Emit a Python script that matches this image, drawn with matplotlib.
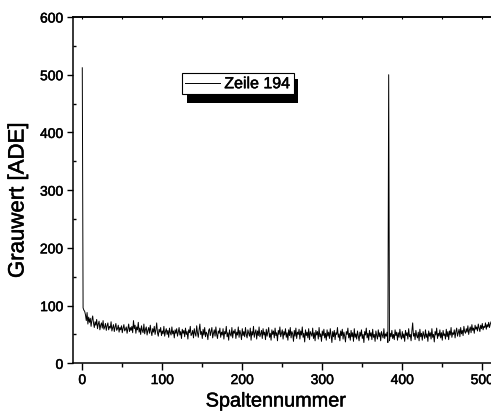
import matplotlib
matplotlib.use("Agg")
import matplotlib.pyplot as plt
import matplotlib.patheffects as pe
from matplotlib.patches import Rectangle
from matplotlib.ticker import MultipleLocator
import numpy as np

plt.rcParams['font.family'] = ['Liberation Sans', 'DejaVu Sans']

# Grey values of image row 194, one per column
grauwert = [
    512, 96, 92, 90, 84, 74, 88, 68, 80, 71, 78, 64, 75, 82, 70, 62,
    72, 66, 76, 60, 68, 73, 58, 66, 70, 61, 74, 59, 63, 69, 57, 65,
    70, 58, 64, 61, 72, 56, 62, 67, 55, 63, 69, 57, 60, 66, 54, 62,
    58, 65, 53, 61, 67, 56, 59, 63, 52, 60, 68, 55, 62, 57, 64, 53,
    74, 60, 66, 52, 63, 58, 71, 54, 61, 50, 65, 57, 53, 68, 51, 59,
    63, 49, 57, 62, 52, 66, 55, 48, 60, 54, 64, 50, 58, 70, 53, 47,
    59, 54, 62, 48, 56, 51, 64, 47, 55, 60, 50, 57, 45, 61, 53, 49,
    63, 51, 56, 44, 58, 52, 60, 47, 54, 62, 49, 55, 43, 59, 52, 57,
    46, 61, 50, 55, 42, 58, 53, 64, 48, 51, 57, 44, 60, 52, 47, 65,
    53, 45, 58, 68, 50, 55, 43, 59, 49, 62, 46, 54, 51, 41, 57, 60,
    48, 55, 62, 44, 52, 58, 47, 63, 50, 43, 56, 52, 61, 45, 54, 49,
    60, 42, 55, 51, 64, 46, 53, 40, 58, 50, 47, 62, 44, 56, 52, 59,
    43, 54, 49, 63, 45, 57, 51, 41, 60, 48, 55, 46, 62, 50, 44, 58,
    52, 47, 61, 40, 55, 49, 64, 45, 53, 58, 42, 56, 48, 63, 46, 51,
    57, 43, 60, 49, 54, 41, 59, 47, 55, 62, 45, 52, 40, 58, 50, 56,
    44, 61, 48, 53, 39, 57, 50, 63, 46, 52, 58, 42, 55, 49, 60, 45,
    53, 40, 58, 48, 62, 44, 55, 51, 38, 57, 47, 61, 43, 54, 50, 59,
    42, 56, 49, 63, 45, 52, 37, 58, 48, 54, 44, 60, 41, 55, 51, 47,
    61, 43, 53, 39, 57, 49, 55, 42, 62, 46, 51, 38, 56, 48, 59, 44,
    52, 40, 58, 47, 54, 43, 60, 49, 36, 55, 46, 57, 41, 53, 50, 62,
    45, 51, 39, 56, 48, 59, 42, 54, 47, 37, 55, 50, 61, 44, 52, 40,
    57, 46, 53, 38, 60, 45, 51, 42, 56, 48, 39, 54, 47, 58, 43, 50,
    36, 55, 49, 61, 44, 52, 40, 57, 47, 53, 41, 59, 45, 50, 38, 56,
    48, 42, 58, 46, 53, 39, 55, 49, 44, 60, 43, 51, 47, 54, 36, 500,
    39, 52, 46, 57, 43, 50, 41, 58, 48, 54, 40, 53, 45, 59, 47, 42,
    55, 44, 51, 38, 57, 48, 53, 42, 60, 46, 50, 39, 56, 70, 47, 52,
    41, 57, 48, 44, 54, 39, 59, 46, 52, 40, 55, 49, 43, 58, 45, 51,
    38, 56, 47, 53, 42, 60, 45, 50, 37, 55, 49, 61, 43, 52, 47, 58,
    44, 53, 40, 57, 48, 51, 42, 59, 46, 55, 41, 56, 49, 62, 45, 53,
    50, 58, 44, 55, 61, 47, 53, 59, 46, 62, 51, 57, 48, 64, 55, 52,
    60, 54, 65, 50, 58, 63, 53, 67, 57, 61, 52, 66, 59, 63, 56, 68,
    61, 55, 66, 60, 69, 58, 64, 62, 70, 59, 67, 63, 71, 62, 68, 72,
]
spalte = np.arange(len(grauwert))

x_label = "Spaltennummer"
y_label = "Grauwert [ADE]"
series_label = "Zeile 194"
x_major, x_minor = 100, 50
y_major, y_minor = 100, 50
x_range = (-11.6, 560)
y_range = (0, 600)

# slightly heavier text strokes
heavy = [pe.withStroke(linewidth=0.35, foreground='black')]

W, H = 491, 412
fig = plt.figure(figsize=(W / 100, H / 100), dpi=100)

# axes frame in pixel terms; the right part runs off the canvas
left_px, bottom_px, top_px = 73, 363.3, 17
ax_w_px = (x_range[1] - x_range[0]) * 0.8
ax_h_px = bottom_px - top_px
ax = fig.add_axes([left_px / W, 1 - bottom_px / H, ax_w_px / W, ax_h_px / H])

ax.plot(spalte, grauwert, color='black', lw=0.7, label=series_label)

ax.set_xlim(*x_range)
ax.set_ylim(*y_range)
ax.xaxis.set_major_locator(MultipleLocator(x_major))
ax.xaxis.set_minor_locator(MultipleLocator(x_minor))
ax.yaxis.set_major_locator(MultipleLocator(y_major))
ax.yaxis.set_minor_locator(MultipleLocator(y_minor))

for side in ('left', 'bottom', 'top'):
    ax.spines[side].set_linewidth(1.1)
ax.spines['right'].set_visible(False)

ax.tick_params(axis='x', which='major', direction='out', length=5, width=1.0,
               labelsize=10, pad=2)
ax.tick_params(axis='x', which='minor', direction='out', length=3, width=1.0)
ax.tick_params(axis='y', which='major', direction='out', length=4.5, width=1.0,
               labelsize=10, pad=2.5)
ax.tick_params(axis='y', which='minor', direction='in', length=2.5, width=1.0)
for lab in ax.get_xticklabels() + ax.get_yticklabels():
    lab.set_path_effects(heavy)

top = ax.secondary_xaxis('top')
top.xaxis.set_major_locator(MultipleLocator(x_major))
top.xaxis.set_minor_locator(MultipleLocator(x_minor))
top.tick_params(which='both', direction='in', length=1.5, width=0.8, labeltop=False)
top.spines['top'].set_linewidth(1.1)

ax.set_xlabel(x_label, fontsize=14.3, va='center', path_effects=heavy)
ax.xaxis.set_label_coords((276 - left_px) / ax_w_px, (bottom_px - 401) / ax_h_px)
ax.set_ylabel(y_label, fontsize=16, va='center', path_effects=heavy)
ax.yaxis.set_label_coords((18 - left_px) / ax_w_px, (bottom_px - 200) / ax_h_px)

# legend box with a solid drop shadow
leg = ax.legend(loc='upper left', bbox_to_anchor=(182 / W, 1 - 73 / H),
                bbox_transform=fig.transFigure, fontsize=11.5, frameon=True,
                framealpha=1.0, fancybox=False, borderpad=0.2, handlelength=2.2,
                handletextpad=0.25, borderaxespad=0)
leg.get_frame().set_edgecolor('black')
leg.get_frame().set_linewidth(0.8)
for t in leg.get_texts():
    t.set_path_effects(heavy)
leg.remove()
shadow = Rectangle((187 / W, 1 - 103 / H), 111 / W, 24 / H, transform=fig.transFigure,
                   facecolor='black', edgecolor='none', zorder=4)
fig.add_artist(shadow)
leg.set_zorder(5)
fig.add_artist(leg)

fig.savefig("out.png", dpi=100)
